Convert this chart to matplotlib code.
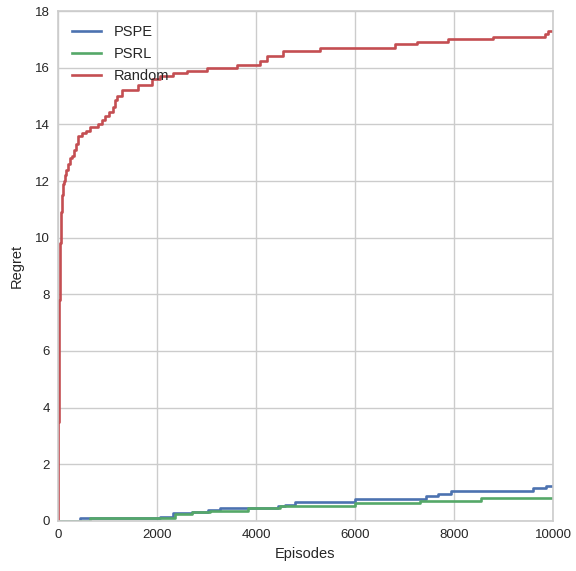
import numpy as np
import matplotlib
matplotlib.use("Agg")
import matplotlib.pyplot as plt

# Step curves: (episode where the step happens, regret after it)
random_episodes = [0, 5, 10, 15, 20, 25, 30, 35, 40, 45, 50, 55, 60, 70, 80, 90, 100,
                   110, 120, 135, 155, 200, 240, 280, 320, 360, 400, 480, 560, 650,
                   800, 880, 950, 1030, 1110, 1150, 1200, 1290, 1620, 1900, 2060,
                   2320, 2600, 3010, 3620, 4080, 4220, 4550, 5290, 6810, 7250, 7880,
                   8790, 9840, 9900, 10000]
random_regret = [0.0, 2.0, 3.5, 5.0, 6.0, 7.0, 7.8, 8.5, 9.0, 9.5, 9.8, 10.2, 10.5,
                 10.9, 11.2, 11.5, 11.7, 11.9, 12.0, 12.2, 12.4, 12.6, 12.8, 12.9,
                 13.1, 13.3, 13.6, 13.7, 13.75, 13.9, 14.0, 14.15, 14.3, 14.45, 14.6,
                 14.85, 15.0, 15.2, 15.4, 15.6, 15.7, 15.8, 15.9, 16.0, 16.1, 16.25,
                 16.4, 16.6, 16.7, 16.85, 16.9, 17.0, 17.1, 17.2, 17.3, 17.3]

pspe_episodes = [0, 440, 2060, 2320, 2700, 3030, 3270, 4450, 4590, 4790, 6000,
                 7430, 7680, 7950, 9600, 9850, 10000]
pspe_regret = [0.0, 0.1, 0.13, 0.27, 0.3, 0.37, 0.47, 0.52, 0.58, 0.68, 0.78,
               0.87, 0.95, 1.07, 1.15, 1.25, 1.25]

psrl_episodes = [0, 650, 2100, 2360, 2700, 3070, 3840, 4480, 6000, 7310, 8550, 10000]
psrl_regret = [0.0, 0.1, 0.12, 0.25, 0.3, 0.35, 0.45, 0.53, 0.63, 0.72, 0.82, 0.82]

labels = ["PSPE", "PSRL", "Random"]
colors = ["#4C72B0", "#55A868", "#C44E52"]

plt.rcParams["font.family"] = ["Liberation Sans", "DejaVu Sans"]
plt.rcParams["text.color"] = ".15"
plt.rcParams["axes.labelcolor"] = ".15"
plt.rcParams["xtick.color"] = ".15"
plt.rcParams["ytick.color"] = ".15"

fig = plt.figure(figsize=(5.76, 5.71), dpi=100)
ax = fig.add_axes([0.1007, 0.0876, 0.8593, 0.8931])

series = [(pspe_episodes, pspe_regret), (psrl_episodes, psrl_regret),
          (random_episodes, random_regret)]
for (x, y), lab, col in zip(series, labels, colors):
    ax.plot(x, y, drawstyle="steps-post", color=col, lw=1.9, label=lab)

ax.set_xlim(0, 10000)
ax.set_ylim(0, 18)
ax.set_xticks(np.arange(0, 10001, 2000))
ax.set_yticks(np.arange(0, 19, 2))
ax.set_xlabel("Episodes", fontsize=10.5)
ax.set_ylabel("Regret", fontsize=10.5, labelpad=8)
ax.tick_params(length=0, labelsize=9.5, pad=6)
ax.grid(True, color="#cccccc", lw=1)
ax.set_axisbelow(True)
for sp in ax.spines.values():
    sp.set_color("#cccccc")
    sp.set_linewidth(1.2)

ax.legend(loc="upper left", frameon=False, fontsize=10.5, handlelength=2.0,
          handletextpad=0.9, borderaxespad=0.55, labelspacing=0.55)

fig.savefig("out.png", dpi=100)
